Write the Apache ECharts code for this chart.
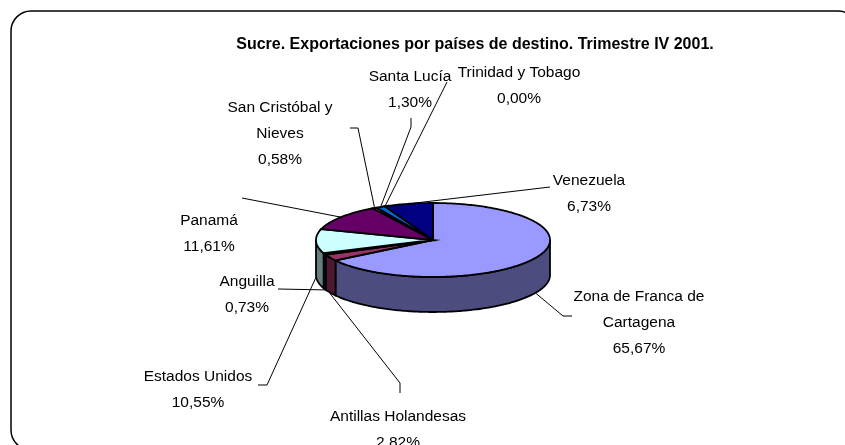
<!DOCTYPE html>
<html lang="es">
<head>
  <meta charset="UTF-8">
  <title>Sucre exportaciones</title>
  <style>
    html, body { margin: 0; padding: 0; background: #fff; }
    #chart { width: 845px; height: 445px; }
  </style>
</head>
<body>
<div id="chart"></div>
<script src="https://cdn.jsdelivr.net/npm/echarts@6/dist/echarts.min.js"></script>
<script>
// datos
const categories = ['Zona de Franca de Cartagena', 'Antillas Holandesas', 'Anguilla', 'Estados Unidos', 'Panamá',
  'San Cristóbal y Nieves', 'Santa Lucía', 'Trinidad y Tobago', 'Venezuela'];
const values = [65.67, 2.82, 0.73, 10.55, 11.61, 0.58, 1.30, 0.00, 6.73];
const labelLines = [['Zona de Franca de', 'Cartagena'], ['Antillas Holandesas'], ['Anguilla'], ['Estados Unidos'],
  ['Panamá'], ['San Cristóbal y', 'Nieves'], ['Santa Lucía'], ['Trinidad y Tobago'], ['Venezuela']];
const colors = ['#9999FF', '#993366', '#FFFFCC', '#CCFFFF', '#660066', '#FF8080', '#0066CC', '#CCCCFF', '#000080'];

// layout del pastel 3D (elipse + grosor)
const CX = 433, CY = 240, RX = 117, RY = 37, DEPTH = 35;
// posicion de etiquetas (centro x, y de la primera linea) y tramo de la linea guia
const labelPos = [
  { x: 639, y: 297, guide: [[572, 316], [563, 316]] },
  { x: 398, y: 417, guide: [[400, 393], [400, 383]] },
  { x: 247, y: 282, guide: [[278, 289]] },
  { x: 198, y: 377, guide: [[258, 385], [267, 385]] },
  { x: 209, y: 221, guide: [[242, 198]] },
  { x: 280, y: 108, guide: [[350, 128], [358, 128]] },
  { x: 410, y: 77, guide: [[411, 118], [411, 127]] },
  { x: 519, y: 73, guide: [[447, 82]] },
  { x: 589, y: 181, guide: [[550, 187]] }
];

const total = values.reduce((a, b) => a + b, 0);
const starts = [];
let acc = 0;
values.forEach(v => { starts.push(acc / total * 360); acc += v; });

function pt(deg, dy) {
  const r = deg * Math.PI / 180;
  return [CX + RX * Math.sin(r), CY - RY * Math.cos(r) + (dy || 0)];
}
function darker(hex) {
  const n = parseInt(hex.slice(1), 16);
  const r = (n >> 16) >> 1, g = ((n >> 8) & 255) >> 1, b = (n & 255) >> 1;
  return 'rgb(' + r + ',' + g + ',' + b + ')';
}
function arc(a, b, dy) {
  const pts = [];
  const steps = Math.max(2, Math.ceil((b - a) / 1));
  for (let k = 0; k <= steps; k++) pts.push(pt(a + (b - a) * k / steps, dy));
  return pts;
}

function renderItem(params, api) {
  const i = params.dataIndex;
  const v = api.value(1);
  const a0 = starts[i];
  const a1 = a0 + v / total * 360;
  const children = [];
  if (v > 0) {
    // pared lateral (solo mitad frontal)
    const s = Math.max(a0, 90), e = Math.min(a1, 270);
    if (s < e) {
      const top = arc(s, e, 0);
      const bot = arc(s, e, DEPTH).reverse();
      children.push({
        type: 'polygon', shape: { points: top.concat(bot) },
        style: { fill: darker(colors[i]), stroke: '#000', lineWidth: 1.8 }
      });
    }
    children.push({
      type: 'polygon', shape: { points: [[CX, CY]].concat(arc(a0, a1, 0)) },
      style: { fill: colors[i], stroke: '#000', lineWidth: 1.8 }
    });
  }
  // linea guia
  const mid = (a0 + a1) / 2;
  const front = mid > 90 && mid < 270;
  const anchor = pt(mid, front ? DEPTH + 1 : 0);
  const lp = labelPos[i];
  children.push({
    type: 'polyline', z2: 10, shape: { points: lp.guide.concat([anchor]) },
    style: { stroke: '#000', lineWidth: 1, fill: null }
  });
  const pct = v.toFixed(2).replace('.', ',') + '%';
  const lines = labelLines[i].concat([pct]);
  children.push({
    type: 'text', z2: 10,
    style: {
      text: lines.join('\n'), x: lp.x, y: lp.y - 13,
      align: 'center', verticalAlign: 'top', lineHeight: 26,
      font: '15.5px "Liberation Sans", Arial, sans-serif', fill: '#000'
    }
  });
  return { type: 'group', children: children };
}

const chart = echarts.init(document.getElementById('chart'));
chart.setOption({
  backgroundColor: '#fff',
  animation: false,
  graphic: [
    {
      type: 'rect', z: -1, shape: { x: 11, y: 11, width: 847, height: 439, r: 20 },
      style: { fill: null, stroke: '#000', lineWidth: 1.5 }
    },
    {
      type: 'text', x: 475, y: 45,
      style: {
        text: 'Sucre. Exportaciones por países de destino. Trimestre IV 2001.',
        align: 'center', verticalAlign: 'middle',
        font: 'bold 16px "Liberation Sans", Arial, sans-serif', fill: '#000'
      }
    }
  ],
  series: [{
    type: 'custom',
    coordinateSystem: 'none',
    renderItem: renderItem,
    data: values.map((v, i) => [i, v, categories[i]])
  }]
});
window.addEventListener('resize', () => {
  chart.resize();
});
</script>
</body>
</html>
